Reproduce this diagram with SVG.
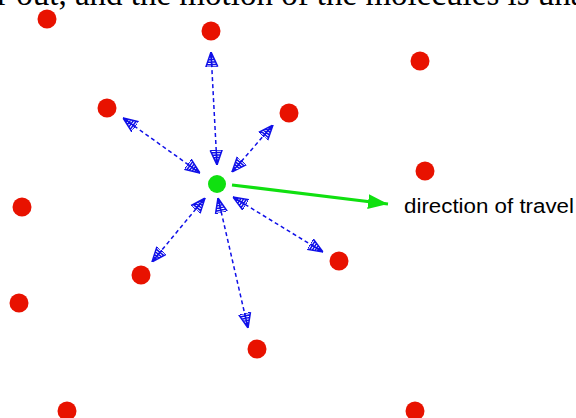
<svg xmlns="http://www.w3.org/2000/svg" width="576" height="418" viewBox="0 0 576 418">
<style>
.red{fill:#e81200}
.green{fill:#10e010}
.blue{fill:none;stroke:#1010e8;stroke-width:1.5;stroke-dasharray:4 3}
.green-line{fill:none;stroke:#10e010;stroke-width:3.2}
.caption{font-family:"Liberation Serif","Times New Roman",serif;font-size:33px;fill:#000}
.label{font-family:"Liberation Sans",Arial,sans-serif;font-size:20px;fill:#000}
</style>
<defs>
<marker id="hatch" markerUnits="userSpaceOnUse" viewBox="0 -7 15 14" refX="15" refY="0" markerWidth="15" markerHeight="14" orient="auto-start-reverse">
<path d="M0,-6 L15,0 L0,6 M0,-6 L0,6 M2.5,-5 L2.5,5 M5,-4 L5,4 M7.5,-3 L7.5,3 M10,-2 L10,2 M12.5,-1 L12.5,1 M0,0 L15,0" fill="none" stroke="#1010e8" stroke-width="1.5"/>
</marker>
<marker id="arrow" markerUnits="userSpaceOnUse" viewBox="0 -8 20 16" refX="20" refY="0" markerWidth="20" markerHeight="16" orient="auto">
<path d="M0,-7.5 L20,0 L0,7.5 Z" fill="#10e010"/>
</marker>
</defs>
<text class="caption" x="-3" y="5">r out, and the motion of the molecules is una</text>
<g id="molecules">
<g id="m1"><circle class="red" cx="47" cy="19" r="9.5"/></g>
<g id="m2"><circle class="red" cx="211" cy="31" r="9.5"/></g>
<g id="m3"><circle class="red" cx="420" cy="61" r="9.5"/></g>
<g id="m4"><circle class="red" cx="107" cy="108" r="9.5"/></g>
<g id="m5"><circle class="red" cx="289" cy="113" r="9.5"/></g>
<g id="m6"><circle class="red" cx="425" cy="171" r="9.5"/></g>
<g id="m7"><circle class="red" cx="22" cy="207" r="9.5"/></g>
<g id="m8"><circle class="red" cx="339" cy="261" r="9.5"/></g>
<g id="m9"><circle class="red" cx="141" cy="275" r="9.5"/></g>
<g id="m10"><circle class="red" cx="19" cy="303" r="9.5"/></g>
<g id="m11"><circle class="red" cx="257" cy="349" r="9.5"/></g>
<g id="m12"><circle class="red" cx="67" cy="411" r="9.5"/></g>
<g id="m13"><circle class="red" cx="415" cy="411" r="9.5"/></g>
</g>
<g id="connectors">
<path class="blue" d="M217,165 L211,52" marker-start="url(#hatch)" marker-end="url(#hatch)"/>
<path class="blue" d="M200,173 L123,118" marker-start="url(#hatch)" marker-end="url(#hatch)"/>
<path class="blue" d="M232,172 L273,125" marker-start="url(#hatch)" marker-end="url(#hatch)"/>
<path class="blue" d="M205,198 L152,262" marker-start="url(#hatch)" marker-end="url(#hatch)"/>
<path class="blue" d="M218,198 L248,328" marker-start="url(#hatch)" marker-end="url(#hatch)"/>
<path class="blue" d="M233,197 L323,252" marker-start="url(#hatch)" marker-end="url(#hatch)"/>
<path class="green-line" d="M232,185 L388,204" marker-end="url(#arrow)"/>
</g>
<g id="tracked">
<circle class="green" cx="217" cy="184" r="9"/>
</g>
<g id="label">
<text class="label" x="404" y="213" textLength="170" lengthAdjust="spacingAndGlyphs">direction of travel</text>
</g>
</svg>
